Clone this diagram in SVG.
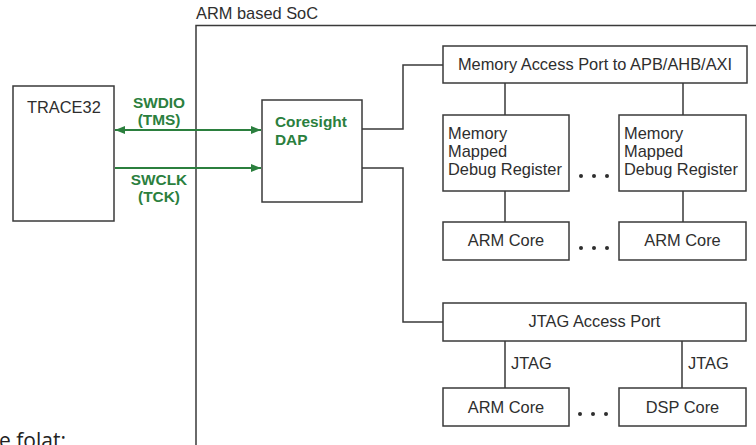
<svg xmlns="http://www.w3.org/2000/svg" width="756" height="445" viewBox="0 0 756 445">
<defs>
<style>
.box{fill:#fff;stroke:#3a3a3a;stroke-width:1.5}
.ln{fill:none;stroke:#3a3a3a;stroke-width:1.5}
.gln{fill:none;stroke:#2b7f3e;stroke-width:1.8}
.t{font-family:"Liberation Sans",Arial,sans-serif;font-size:16.4px;fill:#2e2e2e}
.c{text-anchor:middle}
.g{font-family:"Liberation Sans",Arial,sans-serif;font-size:15.4px;font-weight:bold;fill:#2b7f3e}
.dot{fill:#2e2e2e}
</style>
<marker id="ah" viewBox="0 0 10 8" refX="10" refY="4" markerWidth="10" markerHeight="8" markerUnits="userSpaceOnUse" orient="auto-start-reverse">
<path d="M0,0 L10,4 L0,8 z" fill="#2b7f3e"/>
</marker>
</defs>
<rect width="756" height="445" fill="#fff"/>
<g id="soc">
<path class="ln" d="M196,445 V25.5 H756"/>
<text class="t" x="196" y="19">ARM based SoC</text>
</g>
<g id="connectors">
<path class="ln" d="M362,129 H403 V65 H443"/>
<path class="ln" d="M362,168 H403 V322 H443"/>
<path class="ln" d="M505,83 V115 M683,83 V115"/>
<path class="ln" d="M505,191 V222 M683,191 V222"/>
<path class="ln" d="M505,341 V388 M682,341 V388"/>
<text class="t" x="511" y="369">JTAG</text>
<text class="t" x="688" y="369">JTAG</text>
<path class="gln" d="M115,130 H261" marker-start="url(#ah)" marker-end="url(#ah)"/>
<path class="gln" d="M115,168 H261" marker-end="url(#ah)"/>
<text class="g c" x="159" y="108">SWDIO</text>
<text class="g c" x="159" y="125">(TMS)</text>
<text class="g c" x="159" y="185">SWCLK</text>
<text class="g c" x="159" y="202">(TCK)</text>
</g>
<g id="trace32">
<rect class="box" x="13" y="86" width="101" height="135"/>
<text class="t" x="27" y="113">TRACE32</text>
</g>
<g id="dap">
<rect class="box" x="262" y="100" width="100" height="102"/>
<text class="g" x="275" y="127">Coresight</text>
<text class="g" x="275" y="145">DAP</text>
</g>
<g id="map">
<rect class="box" x="443" y="46" width="304" height="37"/>
<text class="t c" x="595" y="70">Memory Access Port to APB/AHB/AXI</text>
</g>
<g id="mmdr1">
<rect class="box" x="443" y="115" width="126" height="76"/>
<text class="t" x="448" y="139">Memory</text>
<text class="t" x="448" y="157">Mapped</text>
<text class="t" x="448" y="175">Debug Register</text>
</g>
<g id="mmdr2">
<rect class="box" x="619" y="115" width="127" height="76"/>
<text class="t" x="624" y="139">Memory</text>
<text class="t" x="624" y="157">Mapped</text>
<text class="t" x="624" y="175">Debug Register</text>
</g>
<g id="dots1"><circle class="dot" cx="581" cy="176" r="2"/><circle class="dot" cx="594" cy="176" r="2"/><circle class="dot" cx="607" cy="176" r="2"/></g>
<g id="armcore1">
<rect class="box" x="443" y="222" width="126" height="38"/>
<text class="t c" x="506" y="246">ARM Core</text>
</g>
<g id="armcore2">
<rect class="box" x="619" y="222" width="127" height="38"/>
<text class="t c" x="682.5" y="246">ARM Core</text>
</g>
<g id="dots2"><circle class="dot" cx="581" cy="248" r="2"/><circle class="dot" cx="594" cy="248" r="2"/><circle class="dot" cx="607" cy="248" r="2"/></g>
<g id="jtagap">
<rect class="box" x="443" y="303" width="303" height="38"/>
<text class="t c" x="594.5" y="327">JTAG Access Port</text>
</g>
<g id="armcore3">
<rect class="box" x="443" y="388" width="126" height="38"/>
<text class="t c" x="506" y="413">ARM Core</text>
</g>
<g id="dspcore">
<rect class="box" x="619" y="388" width="127" height="38"/>
<text class="t c" x="682.5" y="413">DSP Core</text>
</g>
<g id="dots3"><circle class="dot" cx="580" cy="414" r="2"/><circle class="dot" cx="593" cy="414" r="2"/><circle class="dot" cx="606" cy="414" r="2"/></g>
<text x="-1" y="448" style="font-family:'Open Sans','Noto Sans',sans-serif;font-size:21px;fill:#222">e folat:</text>
</svg>
